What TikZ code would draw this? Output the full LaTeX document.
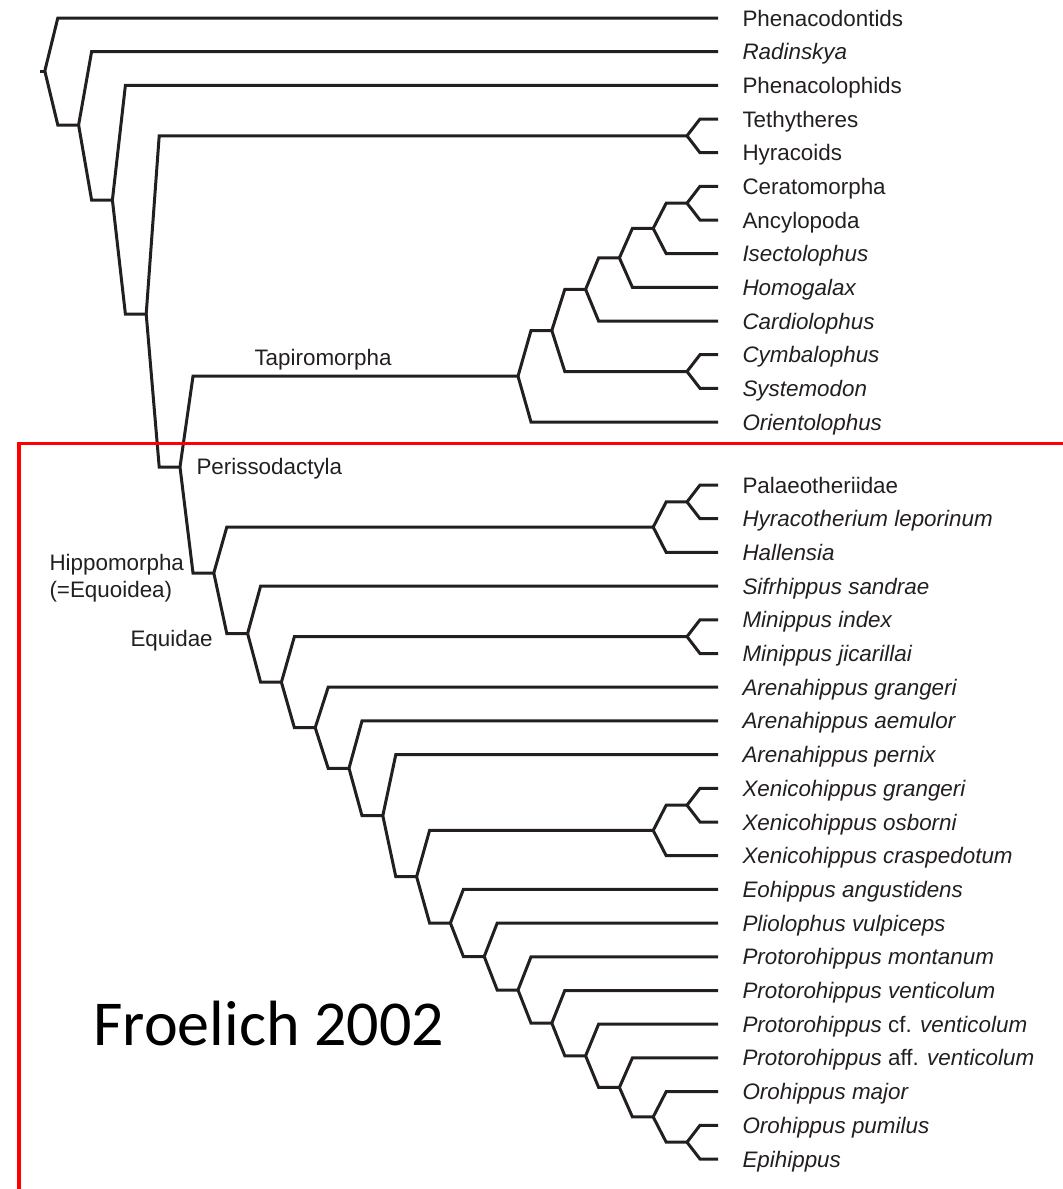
\documentclass[tikz,border=0pt]{standalone}
\usepackage{fontspec}
\setmainfont{Liberation Sans}
\newfontfamily\notefont{Carlito}
\definecolor{inkline}{RGB}{35,31,32}
\definecolor{boxred}{RGB}{255,0,0}
\newcommand{\taxonsize}{\fontsize{22.4}{27.4}\selectfont}

\begin{document}
\begin{tikzpicture}[x=1pt,y=-1pt,line width=3pt,
    leaf/.style={anchor=west,inner xsep=23pt,inner ysep=0pt,text height=16pt,text depth=0pt,font=\taxonsize,text=inkline},
    clade/.style={anchor=base west,inner sep=0pt,font=\taxonsize,text=inkline}]

  \useasboundingbox (0,0) rectangle (1063,1189);

  % terminal taxa
  \begin{scope}[every node/.style={leaf}]
    \node (1)  at (718,18.0)   {Phenacodontids};
    \node (2)  at (718,51.7)   {\textit{Radinskya}};
    \node (3)  at (718,85.3)   {Phenacolophids};
    \node (4)  at (718,119.0)  {Tethytheres};
    \node (5)  at (718,152.7)  {Hyracoids};
    \node (6)  at (718,186.3)  {Ceratomorpha};
    \node (7)  at (718,220.0)  {Ancylopoda};
    \node (8)  at (718,253.7)  {\textit{Isectolophus}};
    \node (9)  at (718,287.3)  {\textit{Homogalax}};
    \node (10) at (718,321.0)  {\textit{Cardiolophus}};
    \node (11) at (718,354.7)  {\textit{Cymbalophus}};
    \node (12) at (718,388.3)  {\textit{Systemodon}};
    \node (13) at (718,422.0)  {\textit{Orientolophus}};
    \node (14) at (718,485.0)  {Palaeotheriidae};
    \node (15) at (718,518.7)  {\textit{Hyracotherium leporinum}};
    \node (16) at (718,552.4)  {\textit{Hallensia}};
    \node (17) at (718,586.1)  {\textit{Sifrhippus sandrae}};
    \node (18) at (718,619.8)  {\textit{Minippus index}};
    \node (19) at (718,653.5)  {\textit{Minippus jicarillai}};
    \node (20) at (718,687.2)  {\textit{Arenahippus grangeri}};
    \node (21) at (718,720.9)  {\textit{Arenahippus aemulor}};
    \node (22) at (718,754.6)  {\textit{Arenahippus pernix}};
    \node (23) at (718,788.3)  {\textit{Xenicohippus grangeri}};
    \node (24) at (718,822.0)  {\textit{Xenicohippus osborni}};
    \node (25) at (718,855.7)  {\textit{Xenicohippus craspedotum}};
    \node (26) at (718,889.4)  {\textit{Eohippus angustidens}};
    \node (27) at (718,923.1)  {\textit{Pliolophus vulpiceps}};
    \node (28) at (718,956.8)  {\textit{Protorohippus montanum}};
    \node (29) at (718,990.5)  {\textit{Protorohippus venticolum}};
    \node (30) at (718,1024.2) {\textit{Protorohippus} cf. \textit{venticolum}};
    \node (31) at (718,1057.9) {\textit{Protorohippus} aff. \textit{venticolum}};
    \node (32) at (718,1091.6) {\textit{Orohippus major}};
    \node (33) at (718,1125.3) {\textit{Orohippus pumilus}};
    \node (34) at (718,1159.0) {\textit{Epihippus}};
  \end{scope}

  % internal nodes
  \coordinate (base)  at (40,71);
  \coordinate (r0)    at (44.8,71);
  \coordinate (r1)    at (78.6,125);
  \coordinate (r2)    at (112.4,200);
  \coordinate (r3)    at (146.2,314);
  \coordinate (th)    at (687,135.8);
  \coordinate (peri)  at (180,467);
  \coordinate (tapir) at (518,376.2);
  \coordinate (t1)    at (551.8,330.5);
  \coordinate (t2)    at (585.6,289.4);
  \coordinate (t3)    at (619.4,257.9);
  \coordinate (t4)    at (653.2,228.4);
  \coordinate (ca)    at (687,203.2);
  \coordinate (cs)    at (687,371.5);
  \coordinate (hippo) at (213.8,573);
  \coordinate (pal1)  at (653.2,527.1);
  \coordinate (pal2)  at (687,501.9);
  \coordinate (equi)  at (247.6,633.5);
  \coordinate (e1)    at (281.4,682.2);
  \coordinate (mini)  at (687,636.6);
  \coordinate (e2)    at (315.2,727.7);
  \coordinate (e3)    at (349,768.3);
  \coordinate (e4)    at (382.8,815.7);
  \coordinate (e5)    at (416.6,876.7);
  \coordinate (xen1)  at (653.2,830.4);
  \coordinate (xen2)  at (687,805.2);
  \coordinate (e6)    at (450.4,923);
  \coordinate (e7)    at (484.2,956.5);
  \coordinate (e8)    at (518,990);
  \coordinate (e9)    at (551.8,1023.1);
  \coordinate (e10)   at (585.6,1055.8);
  \coordinate (e11)   at (619.4,1087.4);
  \coordinate (e12)   at (653.2,1116.9);
  \coordinate (e13)   at (687,1142.2);

  % branches
  \draw[inkline] (base) -- (r0);
  \begin{scope}[every edge/.style={draw=inkline,
      to path={-- ([xshift=13pt]\tikztostart |- \tikztotarget) -- (\tikztotarget)}}]
    \path (r0)    edge (1)    edge (r1);
    \path (r1)    edge (2)    edge (r2);
    \path (r2)    edge (3)    edge (r3);
    \path (r3)    edge (th)   edge (peri);
    \path (th)    edge (4)    edge (5);
    \path (peri)  edge (tapir) edge (hippo);
    \path (tapir) edge (t1)   edge (13);
    \path (t1)    edge (t2)   edge (cs);
    \path (t2)    edge (t3)   edge (10);
    \path (t3)    edge (t4)   edge (9);
    \path (t4)    edge (ca)   edge (8);
    \path (ca)    edge (6)    edge (7);
    \path (cs)    edge (11)   edge (12);
    \path (hippo) edge (pal1) edge (equi);
    \path (pal1)  edge (pal2) edge (16);
    \path (pal2)  edge (14)   edge (15);
    \path (equi)  edge (17)   edge (e1);
    \path (e1)    edge (mini) edge (e2);
    \path (mini)  edge (18)   edge (19);
    \path (e2)    edge (20)   edge (e3);
    \path (e3)    edge (21)   edge (e4);
    \path (e4)    edge (22)   edge (e5);
    \path (e5)    edge (xen1) edge (e6);
    \path (xen1)  edge (xen2) edge (25);
    \path (xen2)  edge (23)   edge (24);
    \path (e6)    edge (26)   edge (e7);
    \path (e7)    edge (27)   edge (e8);
    \path (e8)    edge (28)   edge (e9);
    \path (e9)    edge (29)   edge (e10);
    \path (e10)   edge (30)   edge (e11);
    \path (e11)   edge (31)   edge (e12);
    \path (e12)   edge (32)   edge (e13);
    \path (e13)   edge (33)   edge (34);
  \end{scope}

  % clade names
  \node[clade] (tapiromorpha) at (253,365) {Tapiromorpha};
  \node[clade] (perissodactyla) at (195,474) {Perissodactyla};
  \node[clade,align=left,anchor=north west] (hippomorpha) at (48,552.5) {Hippomorpha\\(=Equoidea)};
  \node[clade] (equidae) at (129,646) {Equidae};

  % highlighted part
  \draw[boxred,line width=3.3pt] (19,443.3) rectangle (1066,1190.5);
  \node[anchor=base west,inner sep=0pt,font=\notefont\fontsize{64}{72}\selectfont] (source) at (92,1045) {Froelich 2002};

\end{tikzpicture}
\end{document}
